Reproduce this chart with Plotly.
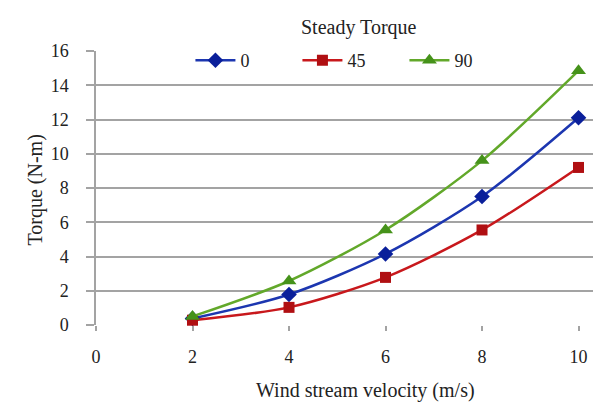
import plotly.graph_objects as go

velocity = [2, 4, 6, 8, 10]
torque_0 = [0.38, 1.78, 4.15, 7.5, 12.1]
torque_45 = [0.28, 1.03, 2.78, 5.55, 9.2]
torque_90 = [0.5, 2.57, 5.55, 9.6, 14.85]
series_names = ["0", "45", "90"]
x_ticks = [0, 2, 4, 6, 8, 10]
y_ticks = [0, 2, 4, 6, 8, 10, 12, 14, 16]

FONT = "Liberation Serif, Times New Roman, serif"
GRID = "#a3a3a3"

fig = go.Figure()
styles = [
    (torque_0, "#1c36b0", "#0a1f9a", "diamond", 12),
    (torque_45, "#c8181c", "#b00f12", "square", 11),
    (torque_90, "#62a82a", "#45921a", "triangle-up", 13),
]
for name, (vals, lc, mc, sym, ms) in zip(series_names, styles):
    fig.add_trace(go.Scatter(
        x=velocity, y=vals, name=name, mode="lines+markers",
        line=dict(color=lc, width=2.5, shape="spline", smoothing=0.8),
        marker=dict(symbol=sym, size=ms, color=mc),
        cliponaxis=False,
    ))

fig.update_layout(
    width=597, height=417,
    margin=dict(l=96, r=4, t=51, b=92),
    paper_bgcolor="white", plot_bgcolor="white",
    font=dict(family=FONT, size=18, color="#222"),
    showlegend=True,
    legend=dict(
        orientation="h", x=0.19, y=0.965, xanchor="left", yanchor="middle",
        bgcolor="white", font=dict(family=FONT, size=18, color="#222"),
        entrywidth=52, itemwidth=40,
    ),
    xaxis=dict(
        range=[0, 10.3], tickvals=x_ticks, showgrid=False, zeroline=False,
        showline=False, ticks="outside", ticklen=5, tickcolor=GRID, tickwidth=1.5,
        ticklabelstandoff=10, tickfont=dict(family=FONT, size=18, color="#222"),
    ),
    yaxis=dict(
        range=[0, 16], tickvals=y_ticks, showgrid=True, gridcolor=GRID, gridwidth=1.5,
        zeroline=False, showline=True, linecolor=GRID, linewidth=1.5,
        ticks="outside", ticklen=8, tickcolor=GRID, tickwidth=1.5,
        ticklabelstandoff=14, tickfont=dict(family=FONT, size=18, color="#222"),
    ),
    annotations=[
        dict(text="Steady Torque", x=359, y=14, showarrow=False,
             font=dict(family=FONT, size=20, color="#222")),
        dict(text="Wind stream velocity (m/s)", x=365, y=404, showarrow=False,
             font=dict(family=FONT, size=20, color="#222")),
        dict(text="Torque (N-m)", x=21, y=190, textangle=-90, showarrow=False,
             font=dict(family=FONT, size=20, color="#222")),
    ],
)

# convert pixel-positioned annotations to paper coords
pw = 597 - 96 - 4
ph = 417 - 51 - 92
for a in fig.layout.annotations:
    px, py = a.x, a.y
    a.xref = "paper"; a.yref = "paper"
    a.x = (px - 96) / pw
    a.y = 1 - (py - 51) / ph

fig.add_shape(type="rect", xref="paper", yref="y", x0=(136 - 96) / pw, x1=1.01,
              y0=15.8, y1=16.2, fillcolor="white", line=dict(width=0), layer="above")

fig.write_html("out.html")
